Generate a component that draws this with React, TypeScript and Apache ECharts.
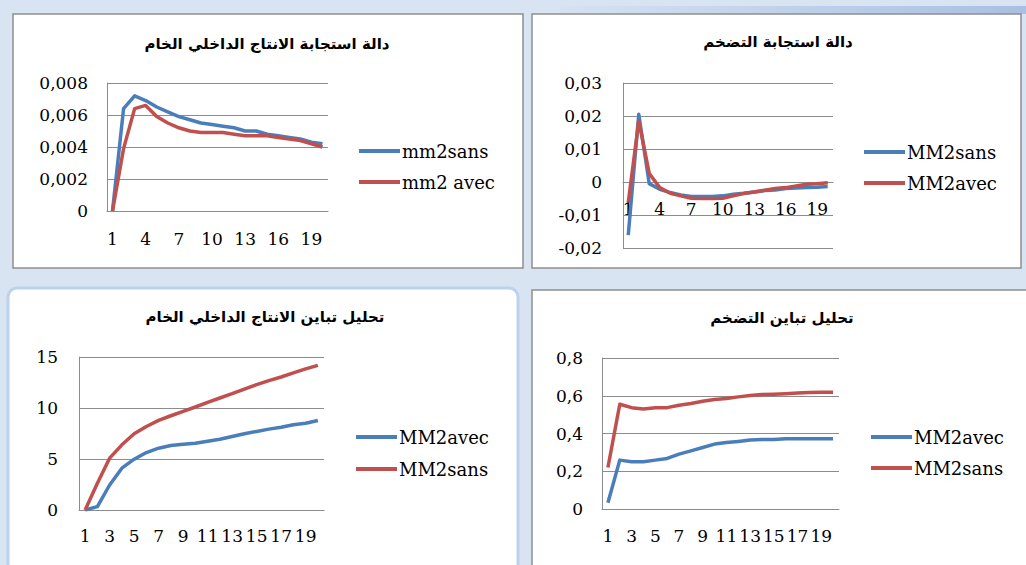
import React, { useEffect, useRef } from "react";
import * as echarts from "echarts";

// ---------- data ----------
const categories = ["1","2","3","4","5","6","7","8","9","10","11","12","13","14","15","16","17","18","19","20"];

// Panel 1 : دالة استجابة الانتاج الداخلي الخام
const p1Title = "دالة استجابة الانتاج الداخلي الخام";
const p1Names = ["mm2sans", "mm2 avec"];
const p1Sans = [0, 0.0064, 0.0072, 0.0069, 0.0065, 0.0062, 0.0059, 0.0057, 0.0055, 0.0054, 0.0053, 0.0052, 0.0050, 0.0050, 0.0048, 0.0047, 0.0046, 0.0045, 0.0043, 0.0042];
const p1Avec = [0, 0.0039, 0.0064, 0.0066, 0.0059, 0.0055, 0.0052, 0.0050, 0.0049, 0.0049, 0.0049, 0.0048, 0.0047, 0.0047, 0.0047, 0.0046, 0.0045, 0.0044, 0.0042, 0.0040];

// Panel 2 : دالة استجابة التضخم
const p2Title = "دالة استجابة التضخم";
const p2Names = ["MM2sans", "MM2avec"];
const p2Sans = [-0.0161, 0.0205, -0.0005, -0.0022, -0.0032, -0.0039, -0.0044, -0.0044, -0.0044, -0.0042, -0.0037, -0.0034, -0.0030, -0.0026, -0.0024, -0.0020, -0.0018, -0.0017, -0.0016, -0.0014];
const p2Avec = [-0.0062, 0.0185, 0.0026, -0.0017, -0.0034, -0.0042, -0.0049, -0.0050, -0.0050, -0.0049, -0.0042, -0.0035, -0.0030, -0.0025, -0.0020, -0.0017, -0.0012, -0.0007, -0.0005, -0.0002];

// Panel 3 : تحليل تباين الانتاج الداخلي الخام
const p3Title = "تحليل تباين الانتاج الداخلي الخام";
const p3Names = ["MM2avec", "MM2sans"];
const p3Avec = [0, 0.33, 2.45, 4.1, 4.98, 5.63, 6.06, 6.32, 6.45, 6.55, 6.75, 6.94, 7.2, 7.47, 7.7, 7.93, 8.12, 8.35, 8.51, 8.78];
const p3Sans = [0, 2.62, 5.08, 6.39, 7.47, 8.19, 8.78, 9.24, 9.67, 10.1, 10.55, 10.98, 11.4, 11.86, 12.29, 12.68, 13.04, 13.44, 13.83, 14.18];

// Panel 4 : تحليل تباين التضخم
const p4Title = "تحليل تباين التضخم";
const p4Names = ["MM2avec", "MM2sans"];
const p4Avec = [0.033, 0.259, 0.25, 0.25, 0.259, 0.268, 0.291, 0.308, 0.326, 0.344, 0.352, 0.358, 0.365, 0.368, 0.368, 0.372, 0.372, 0.372, 0.372, 0.372];
const p4Sans = [0.22, 0.555, 0.537, 0.53, 0.536, 0.537, 0.55, 0.559, 0.571, 0.58, 0.585, 0.594, 0.601, 0.606, 0.608, 0.611, 0.615, 0.617, 0.619, 0.619];

// y-axis scales
const p1Y = { min: 0, max: 0.008, interval: 0.002, digits: 3 };
const p2Y = { min: -0.02, max: 0.03, interval: 0.01, digits: 2 };
const p3Y = { min: 0, max: 15, interval: 5, digits: 0 };
const p4Y = { min: 0, max: 0.8, interval: 0.2, digits: 1 };

// ---------- styling ----------
const BLUE = "#4a7ebb";
const RED = "#c0504d";
const GRID_GRAY = "#8c8c8c";
const FONT_NUM = "'DejaVu Serif', 'Liberation Serif', serif";
const FONT_AR = "'DejaVu Sans', 'Noto Sans', sans-serif";

type Panel = {
  title: string;
  titleX: number;
  titleY: number;
  grid: { left: number; top: number; width: number; height: number };
  y: { min: number; max: number; interval: number; digits: number };
  labelInterval: number;
  yMargin: number;
  xMargin: number;
  names: string[];
  values: number[][];
  colors: string[];
  legendLeft: number;
  legendTop: number;
  legendGap: number;
};

const panels: Panel[] = [
  {
    title: p1Title, titleX: 267, titleY: 45,
    grid: { left: 107, top: 83, width: 221, height: 128 },
    y: p1Y, labelInterval: 2, yMargin: 19, xMargin: 20,
    names: p1Names, values: [p1Sans, p1Avec], colors: [BLUE, RED],
    legendLeft: 359, legendTop: 142, legendGap: 13,
  },
  {
    title: p2Title, titleX: 778, titleY: 43,
    grid: { left: 623, top: 83, width: 210, height: 165 },
    y: p2Y, labelInterval: 2, yMargin: 21, xMargin: 19,
    names: p2Names, values: [p2Sans, p2Avec], colors: [BLUE, RED],
    legendLeft: 864, legendTop: 143, legendGap: 13,
  },
  {
    title: p3Title, titleX: 265, titleY: 318,
    grid: { left: 79, top: 357, width: 245, height: 153 },
    y: p3Y, labelInterval: 1, yMargin: 21, xMargin: 18,
    names: p3Names, values: [p3Avec, p3Sans], colors: [BLUE, RED],
    legendLeft: 356, legendTop: 428, legendGap: 14,
  },
  {
    title: p4Title, titleX: 782, titleY: 319,
    grid: { left: 602, top: 358, width: 237, height: 151 },
    y: p4Y, labelInterval: 1, yMargin: 19, xMargin: 19,
    names: p4Names, values: [p4Avec, p4Sans], colors: [BLUE, RED],
    legendLeft: 871, legendTop: 428, legendGap: 13,
  },
];

function fmt(v: number, digits: number): string {
  if (Math.abs(v) < 1e-12) return "0";
  return v.toFixed(digits).replace(".", ",");
}

function buildOption() {
  const grid: any[] = [];
  const xAxis: any[] = [];
  const yAxis: any[] = [];
  const series: any[] = [];
  const legend: any[] = [];
  const title: any[] = [];

  panels.forEach((p, i) => {
    grid.push({ ...p.grid, containLabel: false });
    // distance from grid bottom to the value 0 (category axis crosses there)
    const zeroOffset =
      p.y.min < 0 ? -(p.grid.height * (0 - p.y.min)) / (p.y.max - p.y.min) : 0;
    title.push({
      text: p.title,
      left: p.titleX,
      top: p.titleY - 9,
      padding: 0,
      textAlign: "center",
      textStyle: { fontFamily: FONT_AR, fontSize: 15, fontWeight: "bold", color: "#000" },
    });
    xAxis.push({
      type: "category",
      gridIndex: i,
      data: categories,
      boundaryGap: true,
      offset: zeroOffset,
      axisLine: { show: true, onZero: false, lineStyle: { color: GRID_GRAY, width: 1 } },
      axisTick: { show: false },
      axisLabel: {
        interval: p.labelInterval,
        margin: p.xMargin - 1,
        color: "#000",
        fontFamily: FONT_NUM,
        fontSize: 17,
      },
      splitLine: { show: false },
    });
    yAxis.push({
      type: "value",
      gridIndex: i,
      min: p.y.min,
      max: p.y.max,
      interval: p.y.interval,
      axisLine: { show: true, lineStyle: { color: GRID_GRAY, width: 1 } },
      axisTick: { show: false },
      axisLabel: {
        margin: p.yMargin,
        color: "#000",
        fontFamily: FONT_NUM,
        fontSize: 17,
        formatter: (v: number) => fmt(v, p.y.digits),
      },
      splitLine: { show: true, lineStyle: { color: GRID_GRAY, width: 1 } },
    });
    p.names.forEach((name, k) => {
      series.push({
        type: "line",
        name,
        xAxisIndex: i,
        yAxisIndex: i,
        data: p.values[k],
        symbol: "none",
        smooth: false,
        lineStyle: { color: p.colors[k], width: 3.5, join: "round" },
        itemStyle: { color: p.colors[k] },
        z: 2 + k,
      });
    });
    legend.push({
      orient: "vertical",
      left: p.legendLeft,
      top: p.legendTop,
      padding: 0,
      itemGap: p.legendGap,
      itemWidth: 41,
      itemHeight: 4,
      icon: "rect",
      selectedMode: false,
      textStyle: { fontFamily: FONT_NUM, fontSize: 18, color: "#000", padding: [0, 0, 0, -3] },
      data: p.names.map((name, k) => ({
        name,
        icon: "rect",
        itemStyle: { color: p.colors[k], borderWidth: 0 },
        lineStyle: { color: p.colors[k], width: 0 },
      })),
    });
  });

  const graphic: any[] = [
    // panel frames
    { type: "rect", z: -10, shape: { x: 13, y: 14, width: 510, height: 254 },
      style: { fill: "#ffffff", stroke: "#8e8e8e", lineWidth: 1.5 } },
    { type: "rect", z: -10, shape: { x: 532, y: 14, width: 489, height: 254 },
      style: { fill: "#ffffff", stroke: "#8e8e8e", lineWidth: 1.5 } },
    { type: "rect", z: -10, shape: { x: 8, y: 288, width: 510, height: 290, r: 9 },
      style: { fill: "#ffffff", stroke: "#bcd2ea", lineWidth: 3 } },
    { type: "rect", z: -10, shape: { x: 532, y: 290, width: 500, height: 290 },
      style: { fill: "#ffffff", stroke: "#8e8e8e", lineWidth: 1.5 } },
    // blue window strip on top right
    { type: "rect", z: -11, shape: { x: 560, y: 6, width: 466, height: 8 },
      style: { fill: new echarts.graphic.LinearGradient(0, 0, 1, 0, [
        { offset: 0, color: "#d6e2f1" }, { offset: 1, color: "#a9bfe3" }]) } },
  ];

  return {
    animation: false,
    backgroundColor: "#d8e4f2",
    title,
    grid,
    xAxis,
    yAxis,
    series,
    legend,
    graphic,
  };
}

export default function App() {
  const ref = useRef<HTMLDivElement | null>(null);
  useEffect(() => {
    if (!ref.current) return;
    const chart = echarts.init(ref.current, undefined, { renderer: "svg" });
    chart.setOption(buildOption() as any);
    return () => chart.dispose();
  }, []);
  return (
    <div
      ref={ref}
      style={{ position: "fixed", left: 0, top: 0, width: 1026, height: 565 }}
    />
  );
}
